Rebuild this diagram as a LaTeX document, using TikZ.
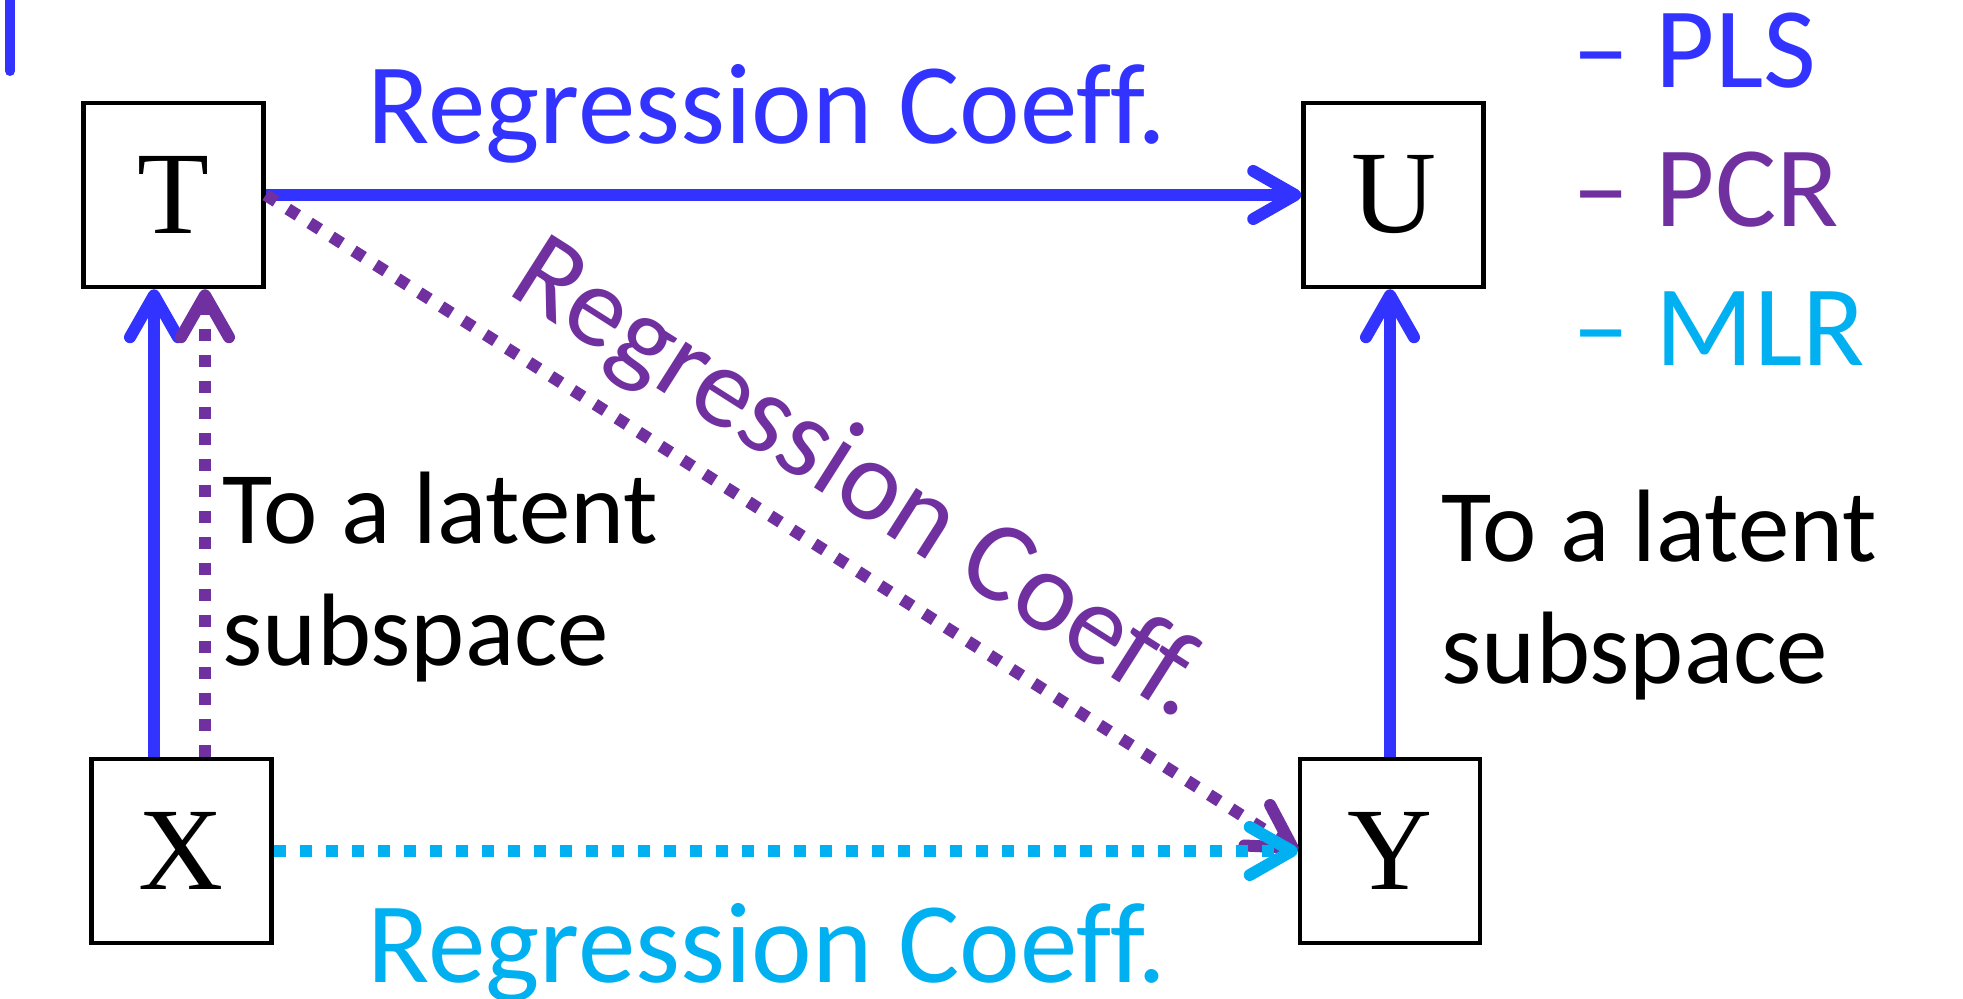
\documentclass[tikz,border=0pt]{standalone}
\usepackage{fontspec}
\setmainfont[Ligatures=NoCommon]{Carlito}
\newfontfamily\boxfont{Liberation Serif}
\usetikzlibrary{arrows.meta}

\definecolor{plsblue}{RGB}{51,51,255}
\definecolor{pcrpurple}{RGB}{112,48,160}
\definecolor{mlrcyan}{RGB}{0,176,240}

\begin{document}
\begin{tikzpicture}[
    box/.style={draw, line width=0.045cm, minimum width=1.80cm, minimum height=1.84cm, inner sep=0pt, font=\boxfont\fontsize{33.5}{40}\selectfont},
    coeff/.style={inner sep=0pt, font=\fontsize{32.7}{38}\selectfont},
    latent/.style={inner sep=0pt, align=left, font=\fontsize{29.3}{34.6}\selectfont},
    link/.style={line width=0.12cm, -{Straight Barb[length=0.42cm, width=0.48cm, round]}},
    dots/.style={link, dash pattern=on 0.12cm off 0.14cm}
  ]
  % Parameters
  \def\lx{-0.275} % offset of the solid arrow from X
  \def\rx{0.235} % offset of the dotted arrow from X

  \useasboundingbox (0,0) rectangle (19.63,9.98);

  % Stray bar in the corner
  \draw[plsblue, line width=0.10cm, line cap=round] (0.10,10.1) -- (0.10,9.27);

  % Draw the four boxes
  \node[box] (T) at (1.735, 8.03) {T};
  \node[box] (U) at (13.935, 8.03) {U};
  \node[box] (X) at (1.815, 1.47) {X};
  \node[box] (Y) at (13.90, 1.47) {Y};

  % Arrows into the latent subspaces
  \draw[link, plsblue] ([xshift=\lx cm]X.north) -- ([xshift=\lx cm]X.north |- T.south);
  \draw[dots, pcrpurple] ([xshift=\rx cm]X.north) -- ([xshift=\rx cm]X.north |- T.south);
  \draw[link, plsblue] (Y.north) -- (Y.north |- U.south);

  % Regression arrows
  \draw[link, plsblue] (T) -- (U);
  \draw[dots, pcrpurple] (T.east) -- (Y.west)
    node[coeff, sloped, pos=0.535, above=0.21cm] (diag) {Regression Coeff.};
  \draw[dots, mlrcyan] (X.east) -- (Y.west);

  % Labels
  \node[coeff, plsblue, anchor=base west] (top) at (3.67, 8.54) {Regression Coeff.};
  \node[coeff, mlrcyan, anchor=base west] (bottom) at (3.67, 0.16) {Regression Coeff.};
  \node[latent, anchor=base west] (left) at (2.22, 3.33) {To a latent\\subspace};
  \node[latent, anchor=base west] (right) at (14.41, 3.15) {To a latent\\subspace};

  % Legend
  \foreach \name/\col/\y in {PLS/plsblue/9.10, PCR/pcrpurple/7.71, MLR/mlrcyan/6.33} {
      \node[coeff, \col, anchor=base west] (leg\name) at (15.72, \y) {\textendash{} \name};
  }
\end{tikzpicture}
\end{document}
